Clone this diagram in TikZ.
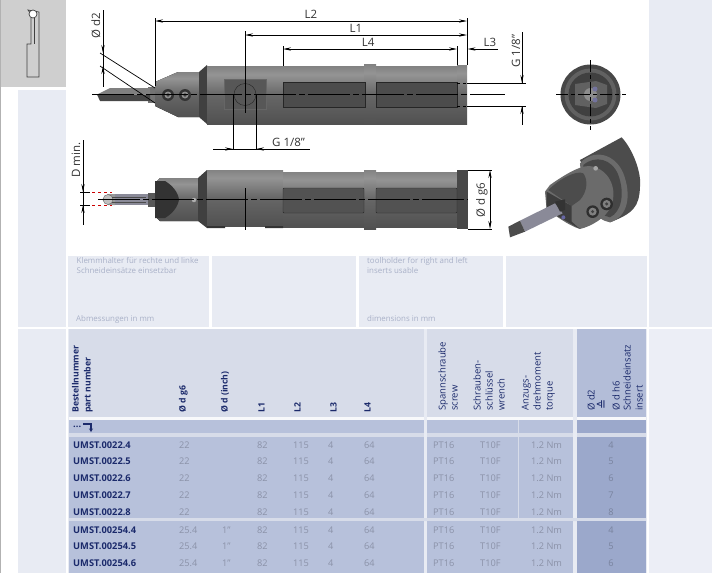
\documentclass[tikz,border=0pt]{standalone}
\usepackage{fontspec}
\setmainfont{Open Sans}
\newfontfamily\symfont{DejaVu Sans}
\usetikzlibrary{arrows.meta, calc}
\definecolor{panel}{HTML}{E8EBF3}
\definecolor{panelb}{HTML}{ECEEF6}
\definecolor{corner}{HTML}{CFCFCF}
\definecolor{headlight}{HTML}{D7DCE9}
\definecolor{headdark}{HTML}{B3BDD8}
\definecolor{rowblue}{HTML}{B7C1DB}
\definecolor{rowdark}{HTML}{9BA8CB}
\definecolor{navy}{HTML}{1B2A6B}
\definecolor{datagrey}{HTML}{8B92A8}
\definecolor{notegrey}{HTML}{A9B1C8}
\definecolor{shank}{HTML}{8A8A98}
\pgfdeclareverticalshading{toolbody}{100bp}{
  color(0bp)=(black!80); color(20bp)=(black!70); color(50bp)=(black!60);
  color(68bp)=(black!42); color(85bp)=(black!58); color(100bp)=(black!64)}
\tikzset{
  dimline/.style={black, line width=0.7pt},
  dimarrow/.style={dimline, {Stealth[length=8pt,width=3.2pt]}-{Stealth[length=8pt,width=3.2pt]}},
  dimtip/.style={dimline, -{Stealth[length=8pt,width=3.2pt]}},
  dimlabel/.style={font=\fontsize{11.5}{12}\selectfont, text=black!80, inner sep=0pt},
  centreline/.style={black, line width=0.7pt, dash pattern=on 42pt off 3pt on 6pt off 3pt},
  steel/.style={shading=toolbody},
  headtext/.style={rotate=90, anchor=west, inner sep=0pt, text height=7pt, text depth=2pt,
    font=\fontsize{8.7}{9}\selectfont\bfseries, text=navy},
  numtext/.style={anchor=west, inner sep=0pt, font=\fontsize{9.3}{9}\selectfont\bfseries, text=navy},
  datatext/.style={anchor=west, inner sep=0pt, font=\fontsize{9.2}{9}\selectfont, text=datagrey},
  notetext/.style={anchor=west, inner sep=0pt, font=\fontsize{7.9}{8}\selectfont, text=notegrey},
}
\begin{document}
\begin{tikzpicture}[x=1pt,y=-1pt]
\useasboundingbox (0,0) rectangle (712,573);
\fill[white] (0,0) rectangle (712,573);

% Page panels
\fill[black!30] (0,0) rectangle (1,573);
\fill[corner] (1,0) rectangle (66,87);
\fill[panel] (18,90) rectangle (66,327);
\fill[panel] (18,329) rectangle (66,573);
\fill[panel] (649,0) rectangle (712,327);
\fill[panelb] (649,329) rectangle (712,573);
\foreach \xa/\xb in {68/209, 212/356, 359/503, 506/647}
  \fill[panel] (\xa,256) rectangle (\xb,327);

% Small profile icon
\draw[black!75, line width=0.7pt] (27,44) -- (31,44) -- (31,14) -- (28,10) -- (39,12) -- (39,77) -- (27,77) -- cycle;
\draw[black!75, line width=0.7pt] (34,18) -- (34,44);
\draw[black!75, line width=0.7pt, fill=white] (33,14) circle[radius=4];

% Notes
\node[notetext] (noteDe) at (76.5,261) {Klemmhalter für rechte und linke};
\node[notetext] (noteDec) at (76.5,271) {Schneideinsätze einsetzbar};
\node[notetext] (noteDim) at (76,319) {Abmessungen in mm};
\node[notetext] (noteEn) at (367,261) {toolholder for right and left};
\node[notetext] (noteEnb) at (367,271) {inserts usable};
\node[notetext] (noteEnd) at (367,319) {dimensions in mm};

% Table bands
\fill[panel] (68,329) rectangle (647,573);
\foreach \xa/\xb/\cH/\cR in {69/424/headlight/rowblue, 427/573/headlight/rowblue, 577/646/headdark/rowdark}
{
  \fill[\cH] (\xa,329) rectangle (\xb,417);
  \fill[white!70!panel] (\xa,417) rectangle (\xb,420);
  \fill[\cR] (\xa,420) rectangle (\xb,433);
  \fill[headlight] (\xa,433) rectangle (\xb,437);
  \fill[\cR] (\xa,437) rectangle (\xb,518);
  \fill[headlight] (\xa,518) rectangle (\xb,521);
  \fill[\cR] (\xa,521) rectangle (\xb,573);
}
\fill[headlight] (424,518) rectangle (427,521) (573,518) rectangle (577,521);
\draw[headlight, line width=0.4pt] (518,420) -- (518,518);

% Table head
\foreach \x/\t in {76/Bestellnummer, 88/part number, 183/Ø d g6, 225/Ø d (inch), 262/L1, 298/L2, 334/L3, 368/L4}
  \node[headtext] at (\x,413) {\t};
\foreach \x/\t in {443/Spannschraube, 455/screw, 478/Schrauben-, 490/schlüssel, 502/wrench, 526/Anzugs-, 538/drehmoment, 550/torque, 592/Ø d2, 617/Ø d h6, 628/Schneideinsatz, 640/insert}
  \node[headtext, font=\fontsize{9.5}{9}\selectfont, text=navy] at (\x,411) {\t};
\node[headtext, font=\fontsize{12}{12}\selectfont] (headEq) at (604,410) {\symfont ≙};

% Hook in the first row
\node[numtext] (dots) at (73,427) {...};
\draw[navy, line width=1.3pt, -{Stealth[length=3.5pt,width=4pt]}] (83,424) -- (91,424) -- (91,432);

% Table rows
\foreach \n/\y/\dia/\inch/\ins in {0022.4/445/22//4, 0022.5/461/22//5, 0022.6/478/22//6, 0022.7/495/22//7, 0022.8/512/22//8, 00254.4/530/25.4/1"/4, 00254.5/546/25.4/1"/5, 00254.6/563/25.4/1"/6}
{
  \node[numtext] at (73,\y) {UMST.\n};
  \node[datatext] at (179,\y) {\dia};
  \node[datatext] at (222,\y) {\inch};
  \node[datatext] at (257,\y) {82};
  \node[datatext] at (293,\y) {115};
  \node[datatext] at (328,\y) {4};
  \node[datatext] at (364,\y) {64};
  \node[datatext] at (433,\y) {PT16};
  \node[datatext] at (480,\y) {T10F};
  \node[datatext] at (531,\y) {1.2 Nm};
  \node[datatext, anchor=center, text=black!22!rowdark] at (611,\y) {\ins};
}

% Side view of the holder
\pgfmathsetmacro{\cy}{94.5}
\fill[black!55] (148,87) rectangle (155,103);
\fill[black!50] (110,88) -- (150,88) -- (150,94.5) -- (97,94.5) -- cycle;
\fill[black!72] (97,94.5) -- (150,94.5) -- (150,101) -- (100,101) -- cycle;
\fill[steel] (155,82) -- (178,72) -- (199,72) -- (199,117) -- (178,117) -- (155,106) -- cycle;
\fill[black!75] (199,72) -- (207,65) -- (207,124) -- (199,117) -- cycle;
\fill[steel] (207,66.5) rectangle (364,124);
\fill[steel] (376,66.5) rectangle (457,124);
\fill[steel] (364,64.5) rectangle (376,124.5);
\fill[steel] (457,65) rectangle (467,124);
\foreach \xa/\xb in {283/365, 376/457}
  \draw[black!85, fill=black!70] (\xa,82.5) rectangle (\xb,107);
\draw[black!60, fill=black!66] (224,79) rectangle (266,109);
\draw[black!85, line width=0.4pt] (245,\cy) circle[radius=11];
\foreach \x in {168,185}
{
  \fill[black!80] (\x,95) circle[radius=6];
  \fill[black!45] (\x,95) circle[radius=3.5];
  \fill[black!75] (\x,95) circle[radius=1.8];
}

\draw[centreline] (92,\cy) -- (505,\cy);
\draw[centreline] (245,84) -- (245,113);

% Dimensions over the side view
\pgfmathsetmacro{\yLb}{21}
\pgfmathsetmacro{\yLa}{35}
\pgfmathsetmacro{\yLd}{49}
\draw[dimline] (155,18) -- (155,86) (467,18) -- (467,65) (245,31) -- (245,84) (283,46) -- (283,66) (457,46) -- (457,65);
\draw[dimarrow] (155,\yLb) -- (467,\yLb) node[dimlabel, midway, above=2pt] (labLb) {L2};
\draw[dimarrow] (245,\yLa) -- (467,\yLa) node[dimlabel, midway, above=2pt] (labLa) {L1};
\draw[dimarrow] (283,\yLd) -- (457,\yLd) node[dimlabel, pos=0.49, above=2pt] (labLd) {L4};
\draw[dimtip] (498,\yLd) -- (467.5,\yLd);
\node[dimlabel] (labLc) at (490,42) {L3};

% G 1/8 on the right
\draw[dimline] (467,83) -- (526,83) (467,106) -- (526,106);
\draw[dimline, dashed] (457,83) -- (467,83) (457,106) -- (467,106);
\draw[dimline] (522,32) -- (522,83) (522,106) -- (522,125);
\draw[dimtip] (522,73) -- (522,83);
\draw[dimtip] (522,116) -- (522,106);
\node[dimlabel, rotate=90] (labGa) at (516,51) {G 1/8"};

% G 1/8 below
\draw[dimline] (233,94.5) -- (233,150) (256,94.5) -- (256,150);
\draw[dimline] (213,149) -- (310,149);
\draw[dimtip] (221,149) -- (233,149);
\draw[dimtip] (268,149) -- (256,149);
\node[dimlabel, anchor=west] (labGb) at (272,142.5) {G 1/8"};

% Bore diameter leaders
\draw[dimline] (103,10) -- (103,87);
\draw[dimtip] (103,44) -- (103,53);
\draw[dimtip] (103,75) -- (103,66);
\draw[dimline] (100,53) -- (155,88) (100,66) -- (155,103);
\node[dimlabel, rotate=90] (labDb) at (96,26) {Ø d2};

% End view
\fill[black!72] (590.5,94.5) circle[radius=30];
\fill[black!62] (590.5,94.5) circle[radius=26];
\fill[black!75] (590.5,94.5) circle[radius=22];
\fill[black!62] (575,84) -- (596,81) -- (607,85) -- (607,104) -- (596,108) -- (575,105) -- cycle;
\fill[black!45] (590.5,94.5) circle[radius=6.5];
\fill[blue!30!black!55] (595,89) circle[radius=2.5] (595,100) circle[radius=2.5];
\draw[centreline, dash pattern=on 12pt off 3pt on 4pt off 3pt] (556,94.5) -- (626,94.5) (590.5,60) -- (590.5,130);

% Top view of the holder
\pgfmathsetmacro{\cyb}{199.5}
\fill[shank] (110,194) rectangle (152,205);
\fill[black!40] (102,199.5) -- (108,194) -- (115,194) -- (115,205) -- (108,205) -- cycle;
\draw[black!60, fill=black!25] (108,199.5) circle[radius=5];
\draw[black!70, line width=0.8pt] (112,197) -- (146,197) (112,202) -- (146,202);
\fill[black!65] (148,193) rectangle (155,207);
\fill[steel] (155,183) -- (160,178) -- (198,178) -- (198,221) -- (160,221) -- (155,216) -- cycle;
\fill[black!80] (155,181) -- (165,181) .. controls (172,185) and (178,192) .. (179,199.5) .. controls (178,207) and (172,214) .. (165,218) -- (155,218) -- cycle;
\fill[black!75] (198,178) -- (207,170) -- (207,228) -- (198,221) -- cycle;
\fill[steel] (207,170) rectangle (283,226);
\fill[steel] (283,172) rectangle (364,227);
\fill[steel] (376,172) rectangle (457,227);
\fill[black!80] (207,226) rectangle (225,228) (265,226) rectangle (283,228);
\fill[steel] (364,170) rectangle (376,229);
\fill[black!72] (457,170) rectangle (468,229);
\foreach \xa/\xb in {283/364, 376/457}
  \draw[black!85, fill=black!68, rounded corners=1pt] (\xa,188) rectangle (\xb,213);
\draw[black!30, fill=black!30] (194,200) circle[radius=2];
\draw[centreline] (98,\cyb) -- (468,\cyb);
\draw[centreline] (245,188) -- (245,230);

% Minimum bore
\draw[red!80!black, line width=0.8pt, dashed] (80,192) -- (112,192) (80,205) -- (112,205);
\draw[dimline] (80,192) -- (90,192) (80,205) -- (90,205);
\draw[dimline] (83,140) -- (83,225);
\draw[dimtip] (83,183) -- (83,192);
\draw[dimtip] (83,214) -- (83,205);
\node[dimlabel, rotate=90] (labDm) at (76,160) {D min.};

% Outside diameter
\draw[dimline] (468,170) -- (492,170) (468,229) -- (492,229);
\draw[dimarrow] (490,170) -- (490,229);
\node[dimlabel, rotate=90] (labDg) at (482,200) {Ø d g6};

% Perspective view
\begin{scope}[shift={(500,130)},x=0.3333pt,y=-0.3333pt]
\fill[black!70] (240,90) -- (365,22) .. controls (400,60) and (425,130) .. (420,170) .. controls (418,230) and (400,250) .. (330,277) -- cycle;
\fill[black!58] (240,100) .. controls (280,55) and (345,70) .. (370,130) .. controls (395,195) and (385,260) .. (330,277) .. controls (290,270) and (250,230) .. (240,100) -- cycle;
\fill[black!72] (250,105) .. controls (285,75) and (335,85) .. (355,135) .. controls (375,190) and (365,245) .. (330,262) .. controls (295,255) and (260,220) .. (250,105) -- cycle;
\fill[black!58] (150,165) .. controls (200,130) and (250,100) .. (280,110) .. controls (335,125) and (350,185) .. (335,225) .. controls (320,265) and (270,290) .. (240,297) .. controls (200,285) and (160,250) .. (140,240) -- (135,185) -- cycle;
\fill[black!70] (145,180) .. controls (180,145) and (230,120) .. (250,130) .. controls (265,150) and (262,185) .. (240,210) -- (215,228) -- cycle;
\fill[black!76] (140,185) -- (215,228) -- (215,275) -- (240,297) -- (140,240) -- cycle;
\foreach \x/\y in {278/245, 320/222}
{
  \fill[black!82] (\x,\y) circle[radius=19];
  \fill[black!50] (\x,\y) circle[radius=12];
  \fill[black!75] (\x,\y) circle[radius=5];
}
\fill[black!35] (287,115) circle[radius=7];
\fill[shank] (60,272) -- (165,220) -- (188,250) -- (75,305) -- cycle;
\fill[black!70] (25,290) -- (60,272) -- (75,305) -- (30,322) -- cycle;
\fill[black!80] (165,215) -- (195,208) -- (195,240) -- (180,245) -- cycle;
\fill[blue!40!black!60] (190,262) circle[radius=6];
\end{scope}
\end{tikzpicture}
\end{document}
